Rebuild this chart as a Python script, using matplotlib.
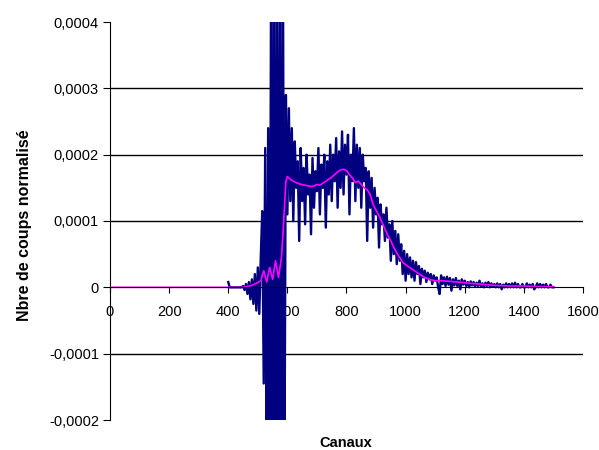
import numpy as np
import matplotlib
matplotlib.use("Agg")
import matplotlib.pyplot as plt
from matplotlib.ticker import FuncFormatter

plt.rcParams['font.family'] = ['Liberation Sans', 'DejaVu Sans']

# noisy spectrum, channels 400..1500 every 5, values in units of 1e-6
raw_channels = np.arange(400, 1505, 5)
raw_values = [
    8, 0, 0, 0, 0, 0, 0, 0, 0, 0,
    2, -4, 5, -10, 8, -18, 12, -25, 20, -35,
    30, -40, 45, 115, -145, 210, -300, 240, -300, 500,
    -300, 500, -300, 500, -300, 500, -300, 500, -300, 290,
    110, 270, 130, 240, 100, 220, 150, 190, 70, 210,
    130, 180, 95, 200, 140, 170, 80, 195, 120, 175,
    145, 210, 110, 185, 150, 200, 90, 190, 140, 215,
    130, 200, 160, 225, 120, 205, 150, 235, 140, 215,
    170, 230, 110, 200, 160, 240, 130, 215, 150, 210,
    120, 200, 160, 180, 70, 175, 120, 165, 90, 150,
    110, 135, 60, 125, 95, 110, 70, 120, 75, 95,
    40, 100, 50, 85, 35, 80, 40, 65, 20, 55,
    10, 50, 20, 45, 15, 40, 10, 38, 20, 32,
    5, 28, 15, 25, 8, 22, 12, 20, 5, 18,
    10, 15, 0, -10, 18, 5, 15, 2, 16, 4,
    14, -5, 12, 3, 14, 2, 10, -3, 12, 4,
    10, 2, 8, 0, 9, 3, 8, 1, 7, 2,
    10, 1, 6, 0, 7, 2, 8, 0, 6, 1,
    5, 0, 6, 0, 5, -3, 4, 0, 6, 0,
    5, 0, 6, 0, 7, 0, 5, 0, 0, 5,
    0, 0, 6, 0, 4, 0, 5, -3, 0, 6,
    0, 5, 0, 4, 0, 5, 0, 0, 4, 0,
    0,
]

# smoothed curve (magenta), values in units of 1e-6
smooth_channels = [
    0, 450, 460, 470, 480, 490, 500, 510, 520, 530, 540, 550, 560, 570,
    580, 585, 590, 595, 600, 610, 620, 630, 640, 650, 660, 670, 680, 690,
    700, 710, 720, 730, 740, 750, 760, 770, 780, 790, 800, 810, 820, 830,
    840, 850, 860, 870, 880, 890, 900, 910, 920, 930, 940, 950, 960, 970,
    980, 990, 1000, 1010, 1020, 1030, 1040, 1050, 1060, 1070, 1080, 1090,
    1100, 1120, 1150, 1200, 1220, 1250, 1300, 1350, 1400, 1450, 1500,
]
smooth_values = [
    0, 0, 1, 2, 3, 5, 7, 10, 25, 8, 30, 12, 40, 15,
    45, 80, 120, 160, 167, 163, 160, 158, 156, 155, 154, 153, 152, 153,
    155, 154, 157, 160, 163, 166, 170, 174, 177, 178, 176, 170, 165, 158,
    160, 155, 150, 147, 140, 125, 116, 108, 98, 88, 78, 70, 60, 52,
    45, 38, 34, 31, 28, 25, 22, 19, 16, 14, 12, 11,
    10, 10, 9, 7, 6, 5, 3, 2, 2, 1, 1,
]

y_ticks = [-0.0002, -0.0001, 0, 0.0001, 0.0002, 0.0003, 0.0004]
x_ticks = [0, 200, 400, 600, 800, 1000, 1200, 1400, 1600]

raw = np.array(raw_values) * 1e-6
smooth = np.array(smooth_values) * 1e-6

fig = plt.figure(figsize=(5.99, 4.5), dpi=100)
ax = fig.add_axes([110 / 599, 1 - 420 / 450, 473 / 599, 398 / 450])

# horizontal gridlines (not at the limits)
for yt in y_ticks[1:-1]:
    if yt != 0:
        ax.axhline(yt, color='black', lw=1.0, zorder=1)

ax.plot(raw_channels, raw, color='#000080', lw=1.7, zorder=2)
ax.plot(smooth_channels, smooth, color='#ff00ff', lw=1.2, zorder=3)

ax.set_xlim(0, 1600)
ax.set_ylim(-0.0002, 0.0004)
ax.set_xticks(x_ticks)
ax.set_yticks(y_ticks)

ax.spines['top'].set_visible(False)
ax.spines['right'].set_visible(False)
ax.spines['bottom'].set_position(('data', 0))
ax.spines['bottom'].set_zorder(4)
ax.spines['left'].set_color('black')
ax.spines['bottom'].set_color('black')

fmt = FuncFormatter(lambda v, p: '0' if abs(v) < 1e-12 else ('%.4f' % v).replace('.', ','))
ax.yaxis.set_major_formatter(fmt)

ax.tick_params(axis='x', direction='out', length=4, pad=9, labelsize=10.5)
ax.tick_params(axis='y', direction='out', length=5, pad=3, labelsize=10.5)

ax.set_xlabel('Canaux', fontsize=10.5, fontweight='bold')
ax.set_ylabel('Nbre de coups normalisé', fontsize=11.5, fontweight='bold')
ax.xaxis.set_label_coords(0.499, -0.04)
ax.yaxis.set_label_coords(-0.165, 0.49)

fig.savefig('out.png', dpi=100)
